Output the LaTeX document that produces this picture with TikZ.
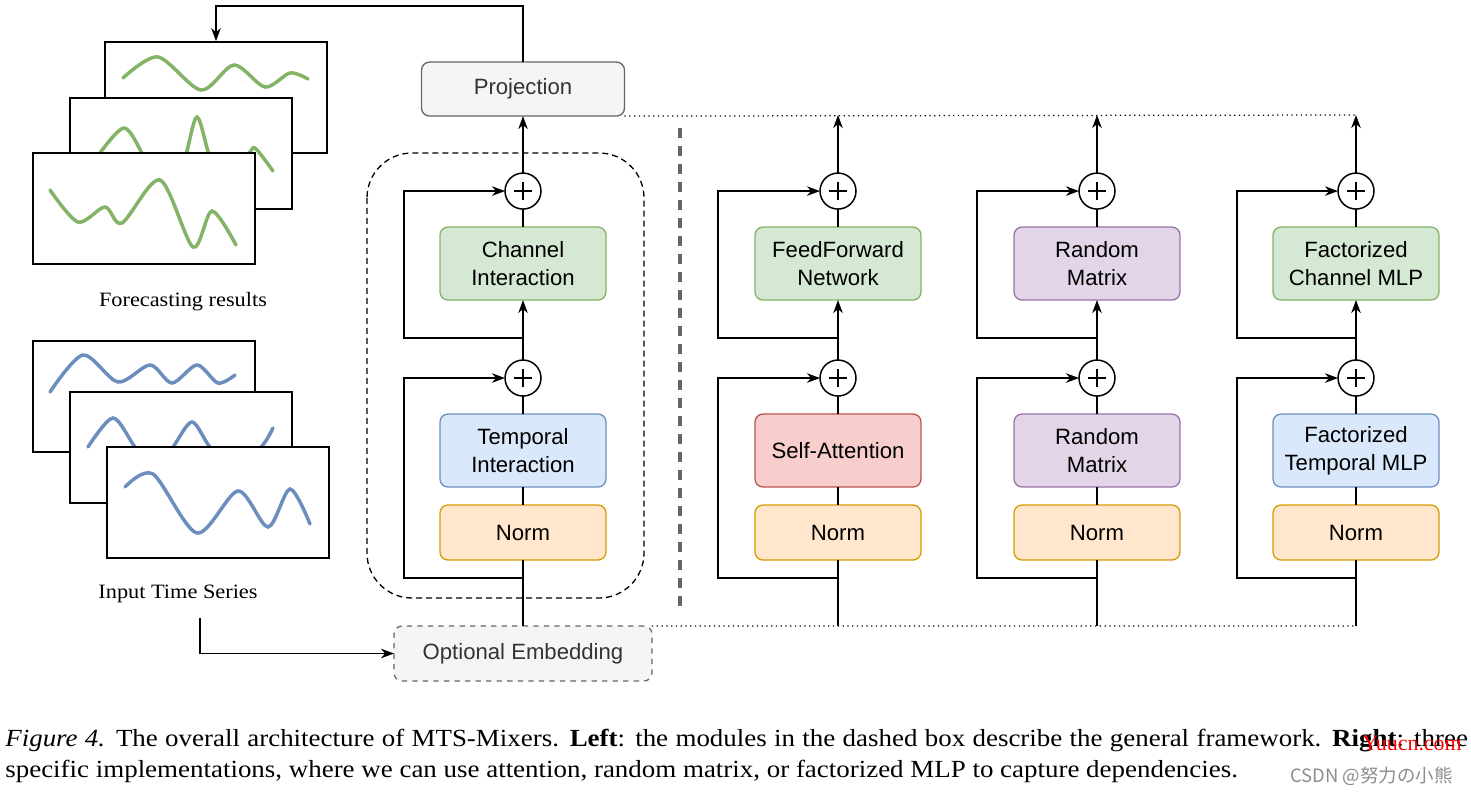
\documentclass[tikz,border=0pt]{standalone}
\usepackage{fontspec}
\setmainfont{Liberation Serif}
\setsansfont{Liberation Sans}
\newfontfamily\capfont[FakeStretch=1.095]{Liberation Serif}
\newfontfamily\cjkfont{Noto Sans CJK SC}
\usetikzlibrary{arrows.meta, positioning}

\definecolor{greenfill}{HTML}{D5E8D4}
\definecolor{greendraw}{HTML}{82B366}
\definecolor{bluefill}{HTML}{DAE8FC}
\definecolor{bluedraw}{HTML}{6C8EBF}
\definecolor{orangefill}{HTML}{FFE6CC}
\definecolor{orangedraw}{HTML}{D79B00}
\definecolor{redfill}{HTML}{F8CECC}
\definecolor{reddraw}{HTML}{B85450}
\definecolor{purplefill}{HTML}{E1D5E7}
\definecolor{purpledraw}{HTML}{9673A6}
\definecolor{grayfill}{HTML}{F5F5F5}
\definecolor{graydraw}{HTML}{666666}
\definecolor{marktext}{HTML}{8C8C8C}

\begin{document}
\begin{tikzpicture}[x=0.02cm, y=-0.02cm, node distance=0.36cm,
  >={Stealth[length=0.26cm, width=0.19cm, inset=0.08cm]},
  wire/.style={line width=0.03cm},
  block/.style={draw, line width=0.026cm, outer sep=0pt, rounded corners=0.16cm, minimum width=3.32cm,
    minimum height=1.46cm, align=center, inner sep=0pt, font=\sffamily\fontsize{12.6}{16}\selectfont},
  normbox/.style={block, minimum height=1.1cm, fill=orangefill, draw=orangedraw},
  greenbox/.style={block, fill=greenfill, draw=greendraw},
  bluebox/.style={block, fill=bluefill, draw=bluedraw},
  redbox/.style={block, fill=redfill, draw=reddraw},
  purplebox/.style={block, fill=purplefill, draw=purpledraw},
  addnode/.style={circle, draw, line width=0.03cm, outer sep=0pt, minimum size=0.72cm, inner sep=0pt, fill=white,
    path picture={\draw[line width=0.055cm]
      ([xshift=-0.18cm]path picture bounding box.center) -- ([xshift=0.18cm]path picture bounding box.center)
      ([yshift=-0.18cm]path picture bounding box.center) -- ([yshift=0.18cm]path picture bounding box.center);}},
  seriesbox/.style={draw, fill=white, line width=0.035cm, minimum width=4.44cm, minimum height=2.22cm, inner sep=0pt},
  wave/.style={line width=0.07cm, line cap=round},
  caplabel/.style={font=\capfont\fontsize{11.6}{13}\selectfont}
]
\useasboundingbox (0,0) rectangle (1471,795);

% forecasting results
\node (fc1) [seriesbox] at (216,97.5) {};
\draw[wave, greendraw] plot[smooth] coordinates {(123,78) (158,57) (201,90) (234,65) (265,87) (290,73) (308,79)};
\node (fc2) [seriesbox] at (181,153.5) {};
\draw[wave, greendraw] plot[smooth] coordinates {(95,160) (124,128) (146,160) (165,185) (184,160) (197,117) (211,160) (230,185) (250,152) (256,149) (273,171)};
\node (fc3) [seriesbox] at (144,208.5) {};
\draw[wave, greendraw] plot[smooth] coordinates {(50,190) (78,222) (105,207) (122,223) (160,180) (193,247) (212,211) (236,245)};
\node (fclabel) [caplabel] at (183,302) {Forecasting results};

% input time series
\node (in1) [seriesbox] at (144,396.5) {};
\draw[wave, bluedraw] plot[smooth] coordinates {(50,392) (83,355) (118,382) (150,365) (172,383) (197,365) (218,383) (235,375)};
\node (in2) [seriesbox] at (181,447.5) {};
\draw[wave, bluedraw] plot[smooth] coordinates {(88,447) (113,418) (135,447) (155,470) (173,447) (192,422) (210,447) (235,470) (262,446) (273,428)};
\node (in3) [seriesbox] at (218,502.5) {};
\draw[wave, bluedraw] plot[smooth] coordinates {(125,487) (153,474) (197,533) (238,491) (268,527) (290,489) (310,524)};
\node (inlabel) [caplabel] at (178,594) {Input Time Series};

% general framework
\draw[line width=0.026cm, dashed, dash pattern=on 0.12cm off 0.08cm, rounded corners=0.9cm] (367,153) rectangle (644,598);
\node (norm) [normbox] at (523,532.5) {Norm};
\node (temp) [bluebox, above=of norm] {Temporal\\Interaction};
\node (adda) [addnode, above=of temp] {};
\node (chan) [greenbox, above=1.2cm of adda] {Channel\\Interaction};
\node (addb) [addnode, above=of chan] {};
\node (proj) [block, minimum width=4.06cm, minimum height=1.08cm, fill=grayfill, draw=graydraw,
  text=black!80, above=1.14cm of addb] {Projection};
\node (embed) [block, minimum width=5.16cm, minimum height=1.1cm, fill=grayfill, draw=graydraw,
  dashed, text=black!80, below=1.32cm of norm] {Optional Embedding};

\coordinate (splita) at (523,578);
\coordinate (splitb) at (523,338);
\coordinate (src) at (200,618);
\draw[wire] (embed) -- (norm);
\draw[wire] (norm) -- (temp);
\draw[wire] (temp) -- (adda);
\draw[wire, ->] (adda) -- (chan);
\draw[wire] (chan) -- (addb);
\draw[wire, ->] (addb) -- (proj);
\draw[wire, ->] (splita) -- ++(-119,0) |- (adda);
\draw[wire, ->] (splitb) -- ++(-119,0) |- (addb);
\draw[wire, ->] (proj.north) -- ++(0,-56) -| (fc1);
\draw[wire, ->] (src) |- (embed);

% separator and dotted guides
\draw[graydraw, line width=0.065cm, dash pattern=on 0.2cm off 0.16cm] (680,128) -- (680,608);
\draw[dotted, line width=0.025cm] (proj.south east) -- (1357,115);
\draw[dotted, line width=0.025cm] (embed.north east) -- (1357,626);

% attention
\node (normp) [normbox] at (838,532.5) {Norm};
\node (attn) [redbox, above=of normp] {Self-Attention};
\node (addpa) [addnode, above=of attn] {};
\node (ffn) [greenbox, above=1.2cm of addpa] {FeedForward\\Network};
\node (addpb) [addnode, above=of ffn] {};
\coordinate (botp) at (838,626);
\coordinate (topp) at (838,115);
\coordinate (splitpa) at (838,578);
\coordinate (splitpb) at (838,338);
\draw[wire] (botp) -- (normp);
\draw[wire] (normp) -- (attn);
\draw[wire] (attn) -- (addpa);
\draw[wire, ->] (addpa) -- (ffn);
\draw[wire] (ffn) -- (addpb);
\draw[wire, ->] (addpb) -- (topp);
\draw[wire, ->] (splitpa) -- ++(-120,0) |- (addpa);
\draw[wire, ->] (splitpb) -- ++(-120,0) |- (addpb);

% random matrix
\node (normq) [normbox] at (1097,532.5) {Norm};
\node (randa) [purplebox, above=of normq] {Random\\Matrix};
\node (addqa) [addnode, above=of randa] {};
\node (randb) [purplebox, above=1.2cm of addqa] {Random\\Matrix};
\node (addqb) [addnode, above=of randb] {};
\coordinate (botq) at (1097,626);
\coordinate (topq) at (1097,115);
\coordinate (splitqa) at (1097,578);
\coordinate (splitqb) at (1097,338);
\draw[wire] (botq) -- (normq);
\draw[wire] (normq) -- (randa);
\draw[wire] (randa) -- (addqa);
\draw[wire, ->] (addqa) -- (randb);
\draw[wire] (randb) -- (addqb);
\draw[wire, ->] (addqb) -- (topq);
\draw[wire, ->] (splitqa) -- ++(-120,0) |- (addqa);
\draw[wire, ->] (splitqb) -- ++(-120,0) |- (addqb);

% factorized MLP
\node (normr) [normbox] at (1356,532.5) {Norm};
\node (tmlp) [bluebox, above=of normr] {Factorized\\Temporal MLP};
\node (addra) [addnode, above=of tmlp] {};
\node (cmlp) [greenbox, above=1.2cm of addra] {Factorized\\Channel MLP};
\node (addrb) [addnode, above=of cmlp] {};
\coordinate (botr) at (1356,626);
\coordinate (topr) at (1356,115);
\coordinate (splitra) at (1356,578);
\coordinate (splitrb) at (1356,338);
\draw[wire] (botr) -- (normr);
\draw[wire] (normr) -- (tmlp);
\draw[wire] (tmlp) -- (addra);
\draw[wire, ->] (addra) -- (cmlp);
\draw[wire] (cmlp) -- (addrb);
\draw[wire, ->] (addrb) -- (topr);
\draw[wire, ->] (splitra) -- ++(-119,0) |- (addra);
\draw[wire, ->] (splitrb) -- ++(-119,0) |- (addrb);

% caption
\node (capa) [anchor=base west, inner sep=0pt, font=\capfont\fontsize{14}{18}\selectfont] at (5,746)
  {\makebox[29.26cm][s]{\textit{Figure 4.} The overall architecture of MTS-Mixers. \textbf{Left}: the modules in the dashed box describe the general framework. \textbf{Right}: three}};
\node (capb) [anchor=base west, inner sep=0pt, font=\capfont\fontsize{14}{18}\selectfont] at (5,777)
  {specific implementations, where we can use attention, random matrix, or factorized MLP to capture dependencies.};
\node (marka) [anchor=base west, inner sep=0pt, text=red, font=\fontsize{12.5}{14}\selectfont] at (1362,750) {Yuucn.com};
\node (markb) [anchor=base west, inner sep=0pt, text=marktext, font=\cjkfont\fontsize{10.5}{12}\selectfont] at (1290,782) {CSDN @努力の小熊};
\end{tikzpicture}
\end{document}
